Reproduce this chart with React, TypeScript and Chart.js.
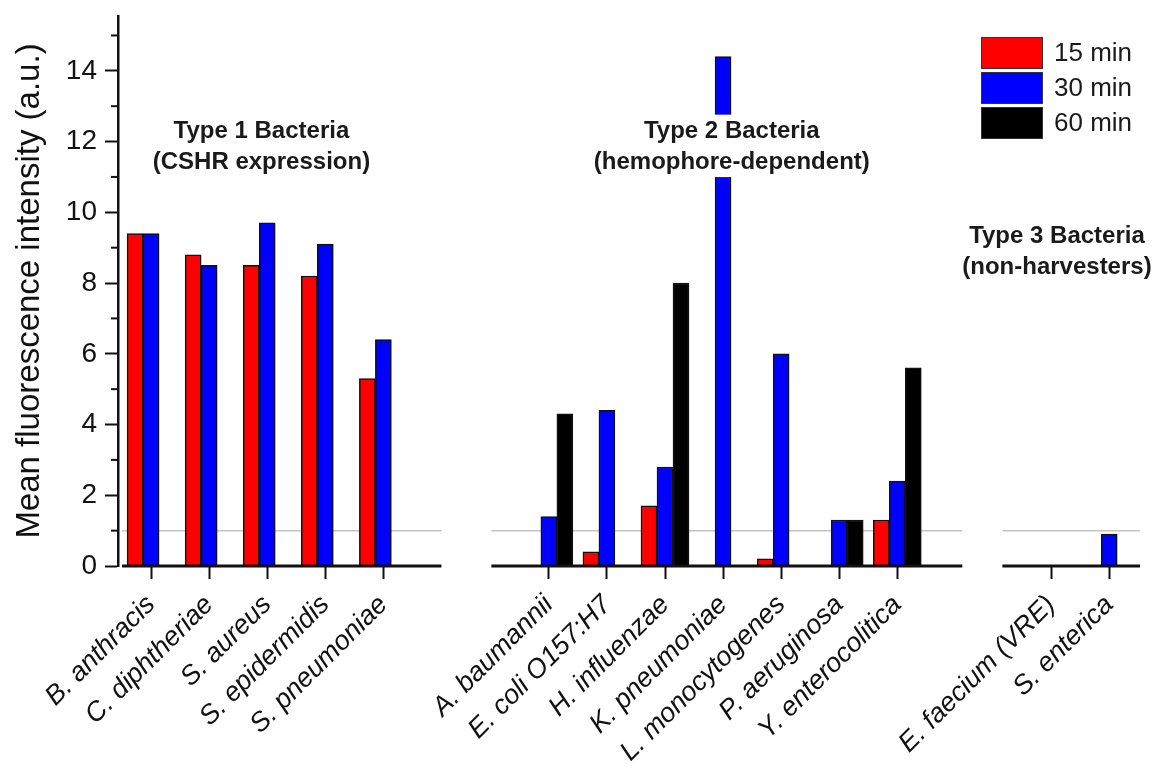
import React, { useEffect, useRef } from 'react';
import { Chart, registerables } from 'chart.js';

Chart.register(...registerables);

// ---------- data ----------
const type1Labels = ['B. anthracis', 'C. diphtheriae', 'S. aureus', 'S. epidermidis', 'S. pneumoniae'];
const type2Labels = ['A. baumannii', 'E. coli O157:H7', 'H. influenzae', 'K. pneumoniae', 'L. monocytogenes', 'P. aeruginosa', 'Y. enterocolitica'];
const type3Labels = ['E. faecium (VRE)', 'S. enterica'];
const categories = [...type1Labels, ...type2Labels, ...type3Labels];

const seriesLabels = ['15 min', '30 min', '60 min'];
const values15 = [9.4, 8.8, 8.5, 8.2, 5.3, null, 0.4, 1.7, null, 0.2, null, 1.3, null, null];
const values30 = [9.4, 8.5, 9.7, 9.1, 6.4, 1.4, 4.4, 2.8, 14.4, 6.0, 1.3, 2.4, null, 0.9];
const values60 = [null, null, null, null, null, 4.3, null, 8.0, null, null, 1.3, 5.6, null, null];

const yTickValues = [0, 2, 4, 6, 8, 10, 12, 14];
const yMinorTickValues = [1, 3, 5, 7, 9, 11, 13, 15];
const thresholdValue = 1;

const groupTitles = [
  ['Type 1 Bacteria', '(CSHR expression)'],
  ['Type 2 Bacteria', '(hemophore-dependent)'],
  ['Type 3 Bacteria', '(non-harvesters)'],
];

// ---------- layout (x in category units, y in value units) ----------
const groupStarts = [0, 6.85, 15.5];
const groupSizes = [type1Labels.length, type2Labels.length, type3Labels.length];
const positions: number[] = [];
groupStarts.forEach((s, g) => {
  for (let i = 0; i < groupSizes[g]; i++) positions.push(s + i);
});
const axisSegments = [
  [-0.5, 5.0],
  [5.86, 13.97],
  [14.66, 17.03],
];
const titlePlacement = [
  { x: 1.9, y1: 12.28, y2: 11.42, bg: false },
  { x: 10.0, y1: 12.28, y2: 11.42, bg: true },
  { x: 15.6, y1: 9.32, y2: 8.44, bg: false },
];

const FONT = '"Liberation Sans", Arial, Helvetica, sans-serif';
const colors = ['#ff0000', '#0000ff', '#000000'];

export default function App() {
  const ref = useRef<HTMLCanvasElement>(null);

  useEffect(() => {
    const canvas = ref.current;
    if (!canvas) return;

    const mk = (vals: (number | null)[]) =>
      vals
        .map((v, i) => ({ x: positions[i], y: v }))
        .filter((p) => p.y !== null) as { x: number; y: number }[];

    const decor = {
      id: 'decor',
      beforeDatasetsDraw(chart: any) {
        const { ctx, scales } = chart;
        const x = scales.x;
        const y = scales.y;
        const yp = y.getPixelForValue(thresholdValue);
        ctx.save();
        ctx.strokeStyle = '#c4c4c4';
        ctx.lineWidth = 1.5;
        axisSegments.forEach(([a, b]) => {
          ctx.beginPath();
          ctx.moveTo(x.getPixelForValue(a), yp);
          ctx.lineTo(x.getPixelForValue(b), yp);
          ctx.stroke();
        });
        ctx.restore();
      },
      afterDatasetsDraw(chart: any) {
        const { ctx, scales, chartArea } = chart;
        const x = scales.x;
        const y = scales.y;
        ctx.save();
        // x axis segments
        const y0 = y.getPixelForValue(0);
        ctx.strokeStyle = '#111';
        ctx.lineWidth = 3;
        axisSegments.forEach(([a, b]) => {
          ctx.beginPath();
          ctx.moveTo(x.getPixelForValue(a), y0);
          ctx.lineTo(x.getPixelForValue(b), y0);
          ctx.stroke();
        });
        // minor y ticks
        ctx.lineWidth = 2;
        yMinorTickValues.forEach((v) => {
          const p = y.getPixelForValue(v);
          ctx.beginPath();
          ctx.moveTo(chartArea.left - 7, p);
          ctx.lineTo(chartArea.left, p);
          ctx.stroke();
        });
        // group titles
        ctx.font = `bold 24px ${FONT}`;
        ctx.textAlign = 'center';
        ctx.textBaseline = 'middle';
        groupTitles.forEach((lines, g) => {
          const tp = titlePlacement[g];
          const cx = x.getPixelForValue(tp.x);
          const p1 = y.getPixelForValue(tp.y1);
          const p2 = y.getPixelForValue(tp.y2);
          if (tp.bg) {
            const w = Math.max(ctx.measureText(lines[0]).width, ctx.measureText(lines[1]).width) + 8;
            ctx.fillStyle = '#ffffff';
            ctx.fillRect(cx - w / 2, p1 - 17, w, p2 - p1 + 32);
          }
          ctx.fillStyle = '#1a1a1a';
          ctx.fillText(lines[0], cx, p1);
          ctx.fillText(lines[1], cx, p2);
        });
        // legend
        const lx = 981;
        const lw = 62;
        const lh = 32;
        const tops = [37, 72, 107];
        ctx.font = `26px ${FONT}`;
        ctx.textAlign = 'left';
        chart.data.datasets.forEach((ds: any, i: number) => {
          ctx.fillStyle = ds.backgroundColor;
          ctx.fillRect(lx, tops[i], lw, lh);
          ctx.strokeStyle = '#333';
          ctx.lineWidth = 1;
          ctx.strokeRect(lx + 0.5, tops[i] + 0.5, lw - 1, lh - 1);
          ctx.fillStyle = '#1a1a1a';
          ctx.fillText(ds.label, lx + lw + 11, tops[i] + lh / 2 + 1);
        });
        ctx.restore();
      },
    };

    const chart = new Chart(canvas, {
      type: 'bar',
      data: {
        datasets: [values15, values30, values60].map((vals, i) => ({
          label: seriesLabels[i],
          data: mk(vals),
          backgroundColor: colors[i],
          borderColor: '#111',
          borderWidth: 1.5,
          barThickness: 16,
        })),
      },
      options: {
        animation: false,
        responsive: false,
        layout: { padding: { top: 16, right: 19, left: 0, bottom: 0 } },
        plugins: {
          legend: { display: false },
          tooltip: { enabled: false },
        },
        scales: {
          x: {
            type: 'linear',
            min: -0.57,
            max: 17.03,
            offset: false,
            grid: {
              display: true,
              drawOnChartArea: false,
              drawTicks: true,
              tickLength: 13,
              tickWidth: 2,
              tickColor: '#111',
              offset: false,
            },
            border: { display: false },
            afterBuildTicks: (s: any) => {
              s.ticks = positions.map((v) => ({ value: v }));
            },
            ticks: {
              autoSkip: false,
              minRotation: 45,
              maxRotation: 45,
              padding: 10,
              color: '#111',
              font: { family: FONT, size: 27, style: 'italic' },
              callback: (_v: any, i: number) => categories[i],
            },
            afterFit: (s: any) => {
              s.height = 202;
              s.paddingLeft = 0;
              s.paddingRight = 0;
            },
          } as any,
          y: {
            min: 0,
            max: 15.55,
            afterBuildTicks: (s: any) => {
              s.ticks = yTickValues.map((v) => ({ value: v }));
            },
            grid: {
              drawOnChartArea: false,
              tickLength: 13,
              tickWidth: 2,
              tickColor: '#111',
            },
            border: { display: true, color: '#111', width: 2.5 },
            ticks: {
              padding: 8,
              color: '#111',
              font: { family: FONT, size: 28 },
            },
            title: {
              display: true,
              text: 'Mean fluorescence intensity (a.u.)',
              color: '#111',
              font: { family: FONT, size: 33 },
              padding: { top: 10, bottom: 0 },
            },
            afterFit: (s: any) => {
              s.width = 118;
              s.paddingTop = 0;
              s.paddingBottom = 0;
            },
          } as any,
        },
      },
      plugins: [decor],
    });

    return () => chart.destroy();
  }, []);

  return (
    <div style={{ position: 'fixed', left: 0, top: 0, width: 1159, height: 768, background: '#fff' }}>
      <canvas ref={ref} width={1159} height={768} style={{ width: 1159, height: 768 }} />
    </div>
  );
}
